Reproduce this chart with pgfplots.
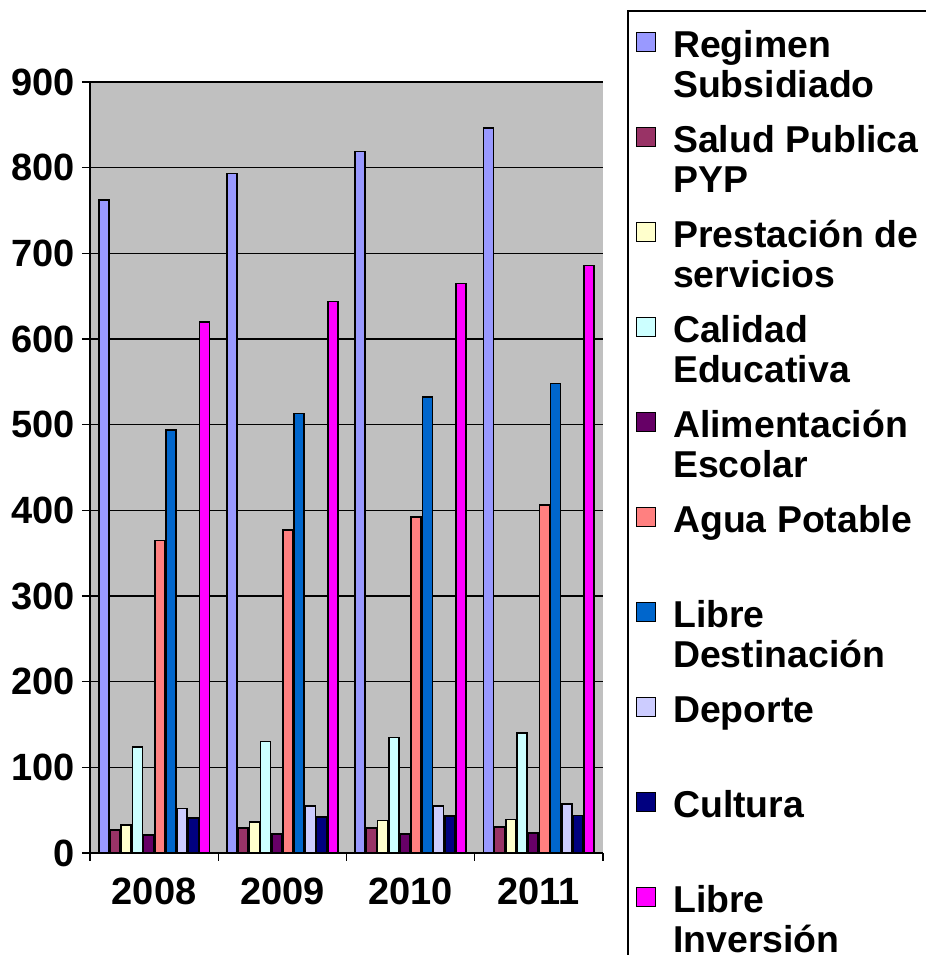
\documentclass[border=0pt]{standalone}
\usepackage{fontspec}
\setmainfont{Liberation Sans}
\usepackage{pgfplots}
\pgfplotsset{compat=1.18}
\usepackage{pgfplotstable}
\definecolor{c1}{HTML}{9999FF}
\definecolor{c2}{HTML}{993366}
\definecolor{c3}{HTML}{FFFFCC}
\definecolor{c4}{HTML}{CCFFFF}
\definecolor{c5}{HTML}{660066}
\definecolor{c6}{HTML}{FF8080}
\definecolor{c7}{HTML}{0066CC}
\definecolor{c8}{HTML}{CCCCFF}
\definecolor{c9}{HTML}{000080}
\definecolor{c10}{HTML}{FF00FF}
\definecolor{bg}{HTML}{C0C0C0}
\pgfplotstableread{
x reg sal pre cal ali agu lde dep cul lin
0 762 27 33 124 21 365 494 52 41 620
1 793 29 36 130 22 377 513 55 42 644
2 819 29 38 135 22 392 532 55 43 665
3 846 30 39 140 23 406 548 57 44 686
}\data
\begin{document}
\begin{tikzpicture}
\useasboundingbox (0,0) rectangle (463pt,477.5pt);
\clip (0,0) rectangle (463pt,477.5pt);
\begin{axis}[
 at={(45pt,51pt)}, anchor=south west,
 scale only axis, width=256.5pt, height=385.5pt,
 ybar=0.6pt, bar width=5pt,
 xmin=-0.5, xmax=3.5, ymin=0, ymax=900,
 ytick={0,100,...,900},
 xtick={0,1,2,3}, xticklabels={2008,2009,2010,2011},
 major x tick style={draw=none},
 minor xtick={-0.5,0.5,1.5,2.5,3.5},
 tick align=outside, major tick length=4pt, minor tick length=4pt,
 tick style={black, line width=0.6pt},
 ymajorgrids, grid style={black, line width=0.6pt},
 axis background/.style={fill=bg},
 axis x line*=bottom, axis y line*=left,
 axis line style={black, line width=0.6pt},
 enlargelimits=false,
 tick label style={font=\fontsize{19}{22}\selectfont\bfseries},
 xticklabel style={yshift=-5pt},
 /pgf/number format/assume math mode=true,
 every axis plot/.append style={draw=black, line width=0.8pt},
 legend image code/.code={\path (0pt,0pt); \draw[#1,draw=black,line width=0.6pt] (0pt,3pt) rectangle (9.5pt,12.5pt);},
 legend style={at={(1.0468,1.0934)}, anchor=north west, draw=black, line width=0.8pt,
   fill=white, font=\fontsize{18.7}{20}\selectfont\bfseries, row sep=0pt,
   column sep=7pt, inner xsep=4pt, inner ysep=9.5pt,
   cells={anchor=base west},
   nodes={inner xsep=1.5pt, inner ysep=0pt, text height=14pt, text depth=6pt}},
]
\addplot[fill=c1] table[x=x,y=reg]{\data};
\addlegendentry{Regimen}
\addlegendimage{empty legend}\addlegendentry[text depth=13.5pt]{Subsidiado}
\addplot[fill=c2] table[x=x,y=sal]{\data};
\addlegendentry{Salud Publica}
\addlegendimage{empty legend}\addlegendentry[text depth=13.5pt]{PYP}
\addplot[fill=c3] table[x=x,y=pre]{\data};
\addlegendentry{Prestación de}
\addlegendimage{empty legend}\addlegendentry[text depth=13.5pt]{servicios}
\addplot[fill=c4] table[x=x,y=cal]{\data};
\addlegendentry{Calidad}
\addlegendimage{empty legend}\addlegendentry[text depth=13.5pt]{Educativa}
\addplot[fill=c5] table[x=x,y=ali]{\data};
\addlegendentry{Alimentación}
\addlegendimage{empty legend}\addlegendentry[text depth=13.5pt]{Escolar}
\addplot[fill=c6] table[x=x,y=agu]{\data};
\addlegendentry{Agua Potable}
\addlegendimage{empty legend}\addlegendentry[text depth=13.5pt]{}
\addplot[fill=c7] table[x=x,y=lde]{\data};
\addlegendentry{Libre}
\addlegendimage{empty legend}\addlegendentry[text depth=13.5pt]{Destinación}
\addplot[fill=c8] table[x=x,y=dep]{\data};
\addlegendentry{Deporte}
\addlegendimage{empty legend}\addlegendentry[text depth=13.5pt]{}
\addplot[fill=c9] table[x=x,y=cul]{\data};
\addlegendentry{Cultura}
\addlegendimage{empty legend}\addlegendentry[text depth=13.5pt]{}
\addplot[fill=c10] table[x=x,y=lin]{\data};
\addlegendentry{Libre}
\addlegendimage{empty legend}\addlegendentry[text depth=13.5pt]{Inversión}
\end{axis}
\end{tikzpicture}
\end{document}
